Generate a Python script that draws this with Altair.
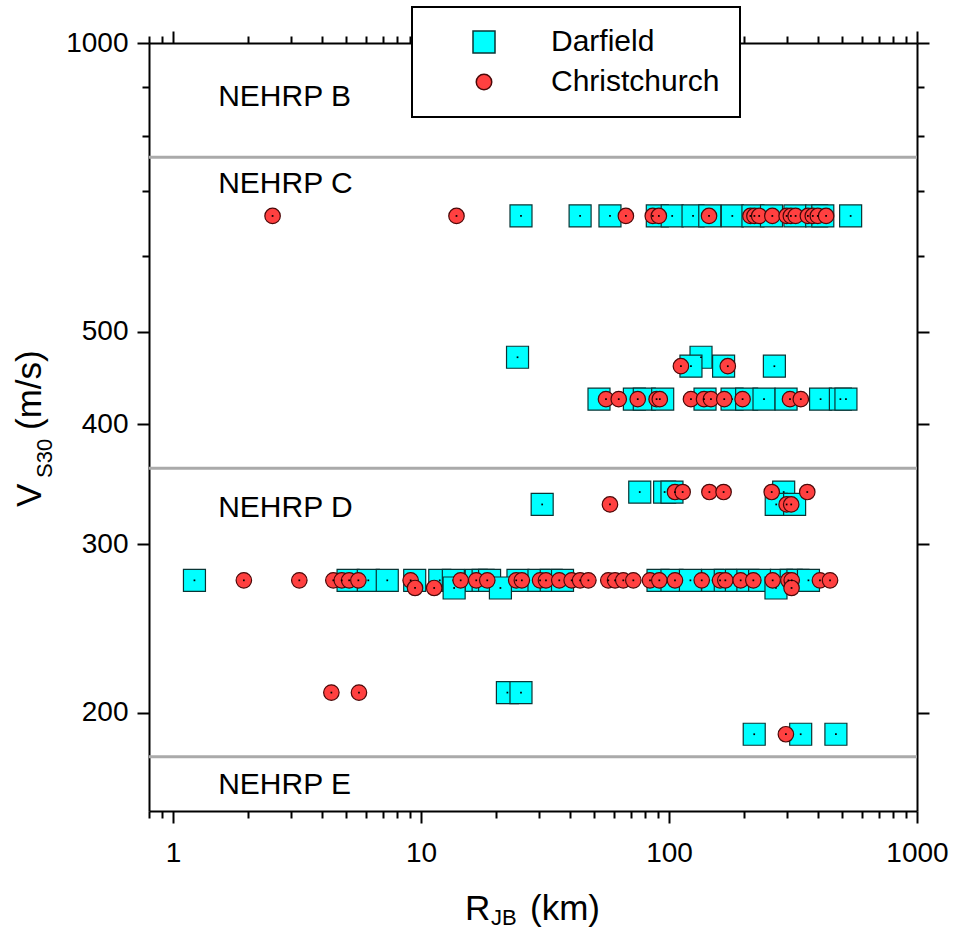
import altair as alt
import pandas as pd

FONT = "Liberation Sans"

# ---------------- data ----------------
series_names = ["Darfield", "Christchurch"]
series_fill = ["#00FFFF", "#FF4040"]
series_stroke = ["#0a3535", "#4a0808"]
series_shape = ["square", "circle"]
series_size = [484, 240]

# Darfield: Vs30 value -> list of R_JB (km)
darfield_v = [660, 470, 460, 425, 340, 330, 275, 270, 210, 190]
darfield_r = [
    [25.3, 43.8, 57.8, 89.7, 103, 125, 146, 180, 218, 259, 322, 394, 417, 540],
    [24.5, 134.6],
    [122.6, 166, 266],
    [52.2, 72.5, 79.5, 94.3, 139.7, 179.6, 205.6, 241.6, 296.5, 408.5, 491, 517],
    [76.2, 96, 102.8, 290],
    [30.8, 270.6, 321],
    [1.22, 5.08, 6.13, 7.31, 9.43, 11.9, 13.5, 16.7, 17.8, 18.9, 24.6, 29.9, 33.5, 37.2,
     90.3, 102.8, 122, 150, 168.6, 187, 208, 232, 284, 311, 331, 365],
    [13.6, 20.9, 270],
    [22.3, 25.3],
    [220.6, 339.6, 471],
]

# Christchurch
christchurch_v = [660, 460, 425, 340, 330, 275, 270, 210, 190]
christchurch_r = [
    [2.52, 13.9, 67, 86, 91, 145, 213, 221, 231, 261, 298, 310, 324, 363, 380, 398, 430],
    [111.7, 172.6],
    [55.7, 62.7, 74.8, 89.1, 91.8, 122.6, 138.4, 147.6, 167, 198, 307.5, 340],
    [105.7, 113.5, 145.5, 166, 259.5, 361],
    [57.8, 298, 311],
    [1.93, 3.23, 4.43, 4.79, 5.13, 5.59, 9.08, 14.45, 16.7, 18.5, 24.2, 25.5, 30.2, 31.9,
     36.1, 40.5, 43.8, 47.3, 56.9, 60.6, 65.4, 71.8, 83.8, 91.4, 105.7, 135.5, 160.6,
     168.7, 194.5, 218.8, 261.8, 303, 312.5, 406, 446],
    [9.46, 11.3, 312],
    [4.35, 5.62],
    [296],
]

# NEHRP class boundaries and labels
boundary_v = [760, 360, 180]
nehrp_labels = ["NEHRP B", "NEHRP C", "NEHRP D", "NEHRP E"]
nehrp_x = [1.52, 1.52, 1.52, 1.52]
nehrp_y = [878, 713, 327, 168.3]

# axes
x_domain = [0.8, 1000]
y_domain = [158, 1000]
x_ticks = [0.8, 0.9, 1, 2, 3, 4, 5, 6, 7, 8, 9, 10, 20, 30, 40, 50, 60, 70, 80, 90,
           100, 200, 300, 400, 500, 600, 700, 800, 900, 1000]
x_major = [1, 10, 100, 1000]
y_ticks = [200, 300, 400, 500, 600, 700, 800, 900, 1000]
y_major = [200, 300, 400, 500, 1000]

# ---------------- tables ----------------
rows = []
for v, rs in zip(darfield_v, darfield_r):
    for r in rs:
        rows.append({"series": "Darfield", "R": r, "V": v})
for v, rs in zip(christchurch_v, christchurch_r):
    for r in rs:
        rows.append({"series": "Christchurch", "R": r, "V": v})
df = pd.DataFrame(rows)
lines_df = pd.DataFrame({"V": boundary_v})
text_df = pd.DataFrame({"label": nehrp_labels, "R": nehrp_x, "V": nehrp_y})

xscale = alt.Scale(type="log", domain=x_domain, nice=False)
yscale = alt.Scale(type="log", domain=y_domain, nice=False)

xmaj = "indexof([" + ",".join(str(v) for v in x_major) + "], datum.value) >= 0"
ymaj = "indexof([" + ",".join(str(v) for v in y_major) + "], datum.value) >= 0"

x_ts = {"condition": {"test": xmaj, "value": 12}, "value": 7}
y_ts = {"condition": {"test": ymaj, "value": 12}, "value": 7}

ax_bottom = alt.Axis(orient="bottom", values=x_ticks, title=None, grid=False,
                     labelExpr=xmaj + " ? format(datum.value, 'd') : ''",
                     tickSize=x_ts, labelFlush=False, labelOverlap=False,
                     labelPadding=16)
ax_top = alt.Axis(orient="top", values=x_ticks, title=None, grid=False,
                  labels=False, tickSize=x_ts)
ax_left = alt.Axis(orient="left", values=y_ticks, title=None, grid=False,
                   labelExpr=ymaj + " ? format(datum.value, 'd') : ''",
                   tickSize=y_ts, labelOverlap=False, labelFlush=False,
                   labelPadding=9)
ax_right = alt.Axis(orient="right", values=y_ticks, title=None, grid=False,
                    labels=False, tickSize=y_ts)

legend = alt.Legend(title=None, orient="none", legendX=263, legendY=-36,
                    strokeColor="black", fillColor="white", padding=20,
                    symbolOffset=37, labelOffset=52, rowPadding=10,
                    labelFont=FONT, labelFontSize=30, labelColor="black",
                    labelLimit=400, symbolStrokeWidth=1.5)

color_enc = alt.Color("series:N", scale=alt.Scale(domain=series_names, range=series_fill), legend=legend)
stroke_enc = alt.Stroke("series:N", scale=alt.Scale(domain=series_names, range=series_stroke))
shape_enc = alt.Shape("series:N", scale=alt.Scale(domain=series_names, range=series_shape))
size_enc = alt.Size("series:N", scale=alt.Scale(domain=series_names, range=series_size))

rules = alt.Chart(lines_df).mark_rule(color="#aaaaaa", strokeWidth=3).encode(
    y=alt.Y("V:Q", scale=yscale, axis=None)
)

labels = alt.Chart(text_df).mark_text(font=FONT, fontSize=30, align="left",
                                       baseline="middle", color="black").encode(
    x=alt.X("R:Q", scale=xscale, axis=ax_top),
    y=alt.Y("V:Q", scale=yscale, axis=ax_right),
    text="label:N",
)


def pts(name, axes):
    base = alt.Chart(df).transform_filter(alt.datum.series == name)
    mk = base.mark_point(filled=True, opacity=1, strokeWidth=1.2).encode(
        x=alt.X("R:Q", scale=xscale, axis=ax_bottom if axes else None),
        y=alt.Y("V:Q", scale=yscale, axis=ax_left if axes else None),
        color=color_enc, stroke=stroke_enc, shape=shape_enc, size=size_enc,
    )
    dot = base.mark_square(size=3, color="black", opacity=1).encode(
        x=alt.X("R:Q", scale=xscale, axis=None),
        y=alt.Y("V:Q", scale=yscale, axis=None),
    )
    return [mk, dot]


def title_piece(txt, px, py, size, angle=0):
    kw = dict(text=txt, font=FONT, fontSize=size, align="left",
              baseline="alphabetic", color="black")
    if angle:
        kw["angle"] = angle
    return alt.Chart(alt.Data(values=[{}])).mark_text(**kw).encode(
        x=alt.value(px), y=alt.value(py))


titles = [
    title_piece("R", 316, 877, 35),
    title_piece("JB", 342, 882, 22),
    title_piece("(km)", 381, 877, 35),
    title_piece("V", -108, 464, 35, 270),
    title_piece("S30", -97, 435, 22, 270),
    title_piece("(m/s)", -108, 387, 35, 270),
]

layers = [rules, labels] + pts("Darfield", True) + pts("Christchurch", False) + titles

chart = alt.layer(*layers).resolve_axis(x="independent", y="independent").properties(
    width=768, height=768,
    autosize=alt.AutoSizeParams(type="none"),
    padding={"left": 149, "top": 43, "right": 45, "bottom": 120},
    background="white",
).configure_view(strokeWidth=0).configure_axis(
    domainColor="black", domainWidth=2, tickColor="black", tickWidth=2,
    labelFont=FONT, labelFontSize=28, labelColor="black",
).configure_legend(strokeWidth=2)

chart.save("out.html", embed_options={"renderer": "svg", "actions": False})
